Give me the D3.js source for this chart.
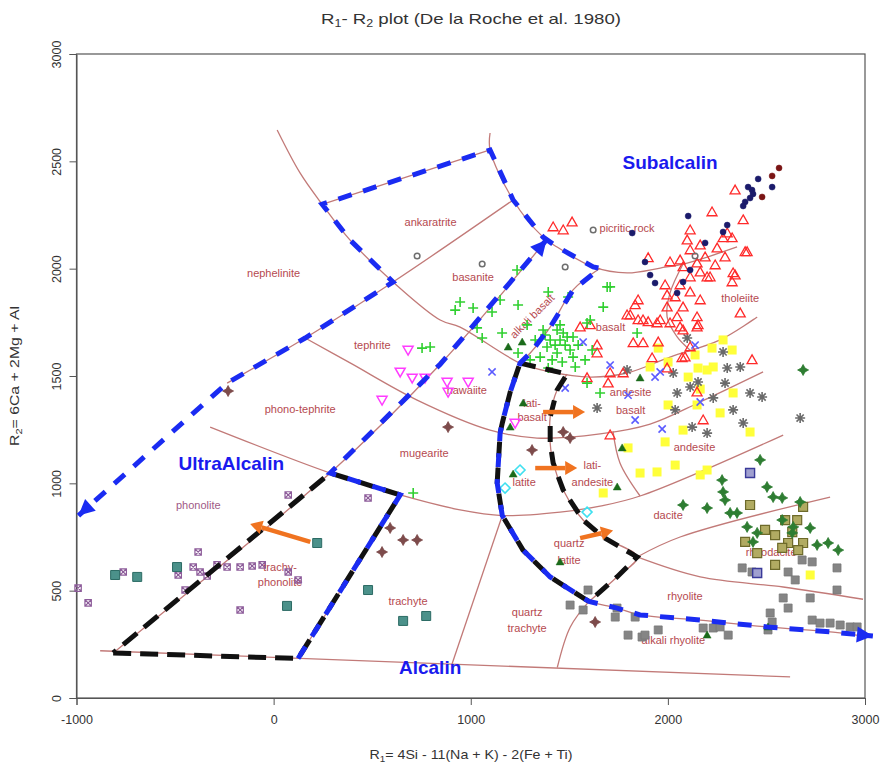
<!DOCTYPE html>
<html><head><meta charset="utf-8">
<script src="https://cdn.jsdelivr.net/npm/d3@7"></script>
<style>body{margin:0;background:#fff}</style>
</head><body>
<svg id="c" width="883" height="768"></svg>
<script>
// ---------- DATA (R1, R2 units) ----------
const xTicks = [-1000, 0, 1000, 2000, 3000];
const yTicks = [0, 500, 1000, 1500, 2000, 2500, 3000];

// field boundary lines
const lineBottom = [[-880,220],[2620,98]];
const curveC1 = [[18,2646],[134,2446],[246,2300],[388,2133],[606,1938],[845,1761],[946,1728],[1250,1560],[1403,1519],[1606,1495],[1793,1514],[2011,1588],[2265,1668],[2453,1775]];
const curveC2 = [[1098,2632],[1098,2553],[1215,2320],[1367,2147],[1438,2101],[1621,2008],[1793,1980],[1961,2003],[2098,2026],[2351,2101]];
const lineTop = [[246,2300],[1098,2553]];
const lineL3 = [[1215,2320],[606,1938],[160,1677],[-236,1467]];
const lineHM = [[160,1677],[388,1561],[728,1388],[1098,1248],[1336,1211],[1656,1230],[1910,1276],[2164,1379],[2483,1519]];
const lineMid = [[-322,1262],[287,1048],[642,946],[946,876],[1160,850],[1453,866],[1656,894],[1859,941],[2585,1225]];
const lineL4 = [[-814,210],[287,1048],[845,1555],[1385,2135]];
const lineL5 = [[642,946],[124,184]];
const lineL6 = [[1160,850],[905,158]];
const lineL7 = [[1600,450],[1505,331],[1439,142]];
const curveS = [[1656,2002],[1519,1901],[1403,1728],[1302,1607],[1250,1560],[1200,1425],[1160,1281],[1149,1234],[1134,1002],[1160,850],[1265,689],[1403,564],[1570,466],[1600,450],[1742,419],[1859,387],[2164,363],[2503,331],[2838,307],[3005,286]];
const lineK2 = [[1489,1509],[1438,1435],[1403,1309],[1403,1188],[1418,1095],[1469,969],[1570,829],[1671,750],[1844,657],[1742,564],[1600,450]];
const lineL9 = [[1722,1242],[1757,1095],[1859,941]];
const lineDacite = [[1844,657],[2062,750],[2823,936]];
const lineRhyolite = [[1844,657],[2164,564],[2585,517],[2990,460]];
const curveTholeiite = [[2077,2022],[2011,1887],[1996,1775],[2047,1682],[2113,1620]];

// dashed boundaries
const blueMain = [[-990,850],[-236,1467],[160,1677],[606,1938],[388,2133],[246,2300],[1098,2553],[1215,2320],[1367,2147],[1438,2101],[1621,2008],[1656,2002],[1519,1901],[1403,1728],[1302,1607],[1250,1560],[1200,1425],[1160,1281],[1149,1234],[1134,1002],[1160,850],[1265,689],[1403,564],[1570,466],[1600,450],[1742,419],[1859,387],[2164,363],[2503,331],[2838,307],[3040,289]];
const blueAlk = [[124,184],[642,946],[287,1048],[845,1555],[1385,2135]];
const blackK1 = [[-814,210],[124,184],[642,946],[287,1048],[-814,210]];
const blackK2 = [[1250,1560],[1489,1509],[1438,1435],[1403,1309],[1403,1188],[1418,1095],[1469,969],[1570,829],[1671,750],[1844,657],[1742,564],[1600,450],[1570,466],[1403,564],[1265,689],[1160,850],[1134,1002],[1149,1234],[1160,1281],[1200,1425],[1250,1560]];

// orange arrows [tailR1, tailR2, tipR1, tipR2]
const orangeArrows = [[186,727,-119,811],[1367,1332,1580,1332],[1327,1071,1540,1071],[1555,745,1722,780]];

// field names
const fieldLabels = [
 ["ankaratrite",796,2217],["nephelinite",0,1980],["basanite",1012,1961],["picritic rock",1793,2189],
 ["tholeiite",2367,1863],["basalt",1709,1728],["tephrite",501,1644],["hawaiite",980,1435],
 ["phono-tephrite",135,1346],["andesite",1811,1425],["basalt",1811,1342],["lati-",1311,1374],["basalt",1311,1309],
 ["mugearite",764,1141],["latite",1271,1006],["lati-",1617,1085],["andesite",1617,1006],["andesite",2135,1169],
 ["trachy-",33,610],["phonolite",33,540],["trachyte",682,452],["quartz",1286,401],["trachyte",1286,326],
 ["quartz",1499,722],["latite",1499,643],["dacite",2001,852],["rhyodacite",2524,680],["rhyolite",2087,475],
 ["alkali rhyolite",2028,270]
];
const phonoliteLabel = ["phonolite",-382,899];
const rotatedLabel = ["alkali basalt",1311,1779];
const seriesLabels = [["Subalcalin",2011,2497],["UltraAlcalin",-215,1095],["Alcalin",794,144]];

// sample points
const greenPlus = [[1235,1994],[946,1845],[921,1807],[1012,1817],[1149,1854],[1240,1831],[1108,1798],[1393,1891],[1494,1868],[1692,1915],[1672,1821],[1032,1724],[1058,1677],[1159,1700],[1240,1607],[1327,1668],[1367,1714],[1438,1714],[1469,1700],[1519,1682],[1387,1635],[1438,1607],[1352,1588],[1519,1588],[1590,1747],[1656,1421],[1590,1467],[1707,1915],[1606,1761],[1489,1682],[1844,1700],[753,1630],[794,1635],[708,955],[1403,1668],[1428,1644],[1453,1668],[1377,1691],[1479,1644],[1504,1621],[1413,1575],[1464,1565],[1545,1644],[1393,1537],[1301,1575],[1580,1575],[1616,1621],[1530,1542],[1453,1738],[1286,1738]];
const redTri = [[2224,2264],[2382,2227],[1900,2050],[2011,2031],[2280,2143],[2326,2143],[2301,2166],[2250,2096],[2290,2054],[2189,2054],[2148,2026],[2392,2078],[2341,1970],[2214,1961],[2164,1984],[2326,1938],[2113,1961],[2077,2008],[1996,1877],[2037,1868],[2077,1821],[2148,1775],[2367,1793],[1996,1821],[2047,1775],[2011,1747],[2062,1728],[1961,1761],[1834,1831],[1793,1784],[1849,1761],[1900,1752],[1945,1747],[2153,1738],[2077,1714],[1824,1654],[1874,1654],[1951,1658],[1641,1644],[1641,1607],[2427,1575],[2072,1584],[1920,1584],[2113,1635],[2402,2078],[2331,1980],[2199,1961],[1849,1854],[1809,1784],[1874,1761],[2148,1728],[1707,1514],[1773,1514],[1697,1467],[1996,1537],[2087,1588],[2148,1425],[2179,1295],[1590,1491],[1606,1738],[1555,1728],[1418,2194],[1469,2180],[1514,2217],[1707,1225],[2113,2180],[2164,2110],[2113,2087],[2062,2040],[2062,1924],[2113,1891],[2164,1854],[1986,1924],[2341,2366],[2240,2017],[2098,2133]];
const navyDot = [[2458,2418],[2407,2380],[2427,2366],[2432,2348],[2417,2329],[2392,2311],[2382,2292],[2529,2380],[2103,2245],[1819,2166],[2301,2203],[2280,2171],[2189,2120],[1884,2031],[1910,1970],[1935,1933],[2047,1887],[2077,1938],[2113,1994]];
const darkRedDot = [[2564,2469],[2529,2432],[2478,2334]];
const grayCircle = [[728,2059],[1058,2022],[1479,2008],[1621,2180],[2138,2059]];
const magentaTri = [[682,1621],[642,1519],[703,1491],[768,1491],[880,1472],[885,1425],[987,1472],[550,1388],[1225,1281]];
const blueX = [[1108,1519],[1479,1444],[1570,1658],[1707,1551],[1935,1495],[1961,1519],[1834,1295],[1971,1253],[2164,1379],[2138,1644],[1798,1411]];
const yellowSq = [[1951,1630],[2224,1630],[2280,1668],[2326,1621],[2138,1598],[2001,1565],[2103,1495],[2230,1542],[2199,1528],[2153,1537],[2331,1421],[2265,1328],[2148,1365],[2001,1365],[2077,1248],[1986,1193],[2417,1239],[1798,1165],[1910,1542],[2164,1439],[1859,1048],[1945,1053],[2037,1085],[2164,1039],[2199,1062],[1672,955],[2722,573]];
const grayStar = [[2098,1677],[2280,1612],[2301,1537],[2367,1542],[2113,1449],[2047,1421],[2153,1472],[2230,1398],[2290,1467],[2331,1342],[2417,1421],[2478,1402],[2382,1281],[2199,1234],[2123,1262],[2037,1342],[2671,1304],[1793,1528],[2027,1514],[1641,1351]];
const darkGreenTri = [[1190,1635],[1261,1658],[1859,1491],[1266,1374],[1200,1262],[1215,1043],[1743,983],[1453,634],[1768,1165],[2199,293],[2508,331]];
const greenDiamond = [[2468,1109],[2503,983],[2534,936],[2580,932],[2671,913],[2275,1015],[2280,960],[2290,922],[2077,899],[2199,885],[2316,862],[2351,862],[2402,797],[2453,769],[2636,797],[2722,792],[2757,713],[2813,722],[2864,689],[2580,829],[2631,769],[2432,727],[2686,1528]];
const oliveSq = [[2417,899],[2595,829],[2656,829],[2686,890],[2493,783],[2544,759],[2631,773],[2686,722],[2610,722],[2392,727],[2453,675],[2544,620],[2661,689],[2580,699]];
const graySq = [[2377,606],[2610,587],[2646,550],[2681,643],[2732,634],[2858,606],[2858,503],[2585,466],[2610,419],[2722,466],[2732,363],[2772,349],[2823,349],[2874,340],[2925,331],[2960,331],[2519,396],[2529,354],[2508,317],[1733,377],[1834,377],[1798,293],[1869,284],[1951,317],[2179,326],[2230,326],[2265,331],[2306,293],[2427,587],[1504,433],[1595,503],[1570,410],[1742,419],[1884,293]];
const blueSq = [[2417,1048],[2453,582]];
const purpleBox = [[74,946],[-383,680],[-763,587],[-408,610],[-373,587],[-337,568],[-484,573],[-449,503],[-170,410],[-992,512],[-941,443],[74,587],[124,550],[-287,620],[-236,610],[-170,610],[479,932],[-109,615],[-58,620]];
const tealSq = [[-804,573],[-692,564],[-490,610],[221,722],[68,429],[479,503],[657,359],[774,382]];
const brownStar = [[885,1262],[591,792],[657,736],[728,736],[550,680],[1311,1155],[1469,1239],[1504,1211],[-231,1430],[1631,354]];
const cyanDia = [[1250,1062],[1174,978],[1590,866]];

// ---------- DRAWING ----------
const svg = d3.select('#c');
svg.append('rect').attr('width',883).attr('height',768).attr('fill','#fff');
const x = d3.scaleLinear().domain([-1000,3000]).range([76.5,865]);
const y = d3.scaleLinear().domain([0,3000]).range([698,54]);
const FONT = "'Liberation Sans', Arial, sans-serif";

// axes
const xAxis = d3.axisBottom(x).tickValues(xTicks).tickSize(7).tickFormat(d=>String(d));
const gx = svg.append('g').attr('transform','translate(0,698)').call(xAxis);
gx.selectAll('text').attr('font-family',FONT).attr('font-size',12.5).attr('fill','#333').attr('dy','1.3em');
const yAxis = d3.axisLeft(y).tickValues(yTicks).tickSize(7).tickFormat(d=>String(d));
const gy = svg.append('g').attr('transform','translate(76.5,0)').call(yAxis);
gy.selectAll('text').attr('font-family',FONT).attr('font-size',12.5).attr('fill','#333')
  .attr('transform','rotate(-90)').attr('x',0).attr('y',-16).attr('dy','0').attr('text-anchor','middle');
[gx,gy].forEach(g=>{g.select('.domain').attr('stroke','#555');g.selectAll('line').attr('stroke','#555');});
svg.append('rect').attr('x',x(-1000)).attr('y',y(3000)).attr('width',x(3000)-x(-1000)).attr('height',y(0)-y(3000))
  .attr('fill','none').attr('stroke','#555').attr('stroke-width',1.2);

// titles
const t = svg.append('text').attr('x',471).attr('y',24).attr('text-anchor','middle').attr('font-family',FONT).attr('font-size',15).attr('fill','#333')
  .attr('textLength',300).attr('lengthAdjust','spacingAndGlyphs');
t.append('tspan').text('R');t.append('tspan').text('1').attr('font-size',10).attr('dy',3);
t.append('tspan').text('- R').attr('dy',-3);t.append('tspan').text('2').attr('font-size',10).attr('dy',3);
t.append('tspan').text(' plot (De la Roche et al. 1980)').attr('dy',-3);
const xt = svg.append('text').attr('x',471).attr('y',759).attr('text-anchor','middle').attr('font-family',FONT).attr('font-size',13).attr('fill','#333')
  .attr('textLength',203).attr('lengthAdjust','spacingAndGlyphs');
xt.append('tspan').text('R');xt.append('tspan').text('1').attr('font-size',9).attr('dy',3);
xt.append('tspan').text('= 4Si - 11(Na + K) - 2(Fe + Ti)').attr('dy',-3);
const yt = svg.append('text').attr('transform','translate(19,376) rotate(-90)').attr('text-anchor','middle').attr('font-family',FONT).attr('font-size',13).attr('fill','#333')
  .attr('textLength',140).attr('lengthAdjust','spacingAndGlyphs');
yt.append('tspan').text('R');yt.append('tspan').text('2').attr('font-size',9).attr('dy',3);
yt.append('tspan').text('= 6Ca + 2Mg + Al').attr('dy',-3);

// field lines
const lin = d3.line().x(d=>x(d[0])).y(d=>y(d[1]));
const smooth = d3.line().x(d=>x(d[0])).y(d=>y(d[1])).curve(d3.curveCatmullRom.alpha(0.5));
const brown = '#c27a78';
[[lineBottom,lin],[curveC1,smooth],[curveC2,smooth],[lineTop,lin],[lineL3,smooth],[lineHM,smooth],[lineMid,smooth],
 [lineL4,smooth],[lineL5,lin],[lineL6,lin],[lineL7,smooth],[curveS,smooth],[lineK2,smooth],[lineL9,smooth],
 [lineDacite,smooth],[lineRhyolite,smooth],[curveTholeiite,smooth]].forEach(([d,g])=>{
  svg.append('path').attr('d',g(d)).attr('fill','none').attr('stroke',brown).attr('stroke-width',1.3);
});

// field labels
const lab = svg.append('g').attr('font-family',FONT).attr('font-size',11).attr('fill','#b5494f').attr('text-anchor','middle');
fieldLabels.forEach(l=>lab.append('text').attr('x',x(l[1])).attr('y',y(l[2])).attr('dy','0.35em').text(l[0]));
lab.append('text').attr('x',x(phonoliteLabel[1])).attr('y',y(phonoliteLabel[2])).attr('dy','0.35em').attr('fill','#a05a86').text(phonoliteLabel[0]);
lab.append('text').attr('transform',`translate(${x(rotatedLabel[1])},${y(rotatedLabel[2])}) rotate(-45)`).attr('dy','0.35em').text(rotatedLabel[0]);

// symbols
function sym(type,r){
  const a=r*0.72;
  switch(type){
    case 'plus': return `M${-r},0H${r}M0,${-r}V${r}`;
    case 'x': return `M${-a},${-a}L${a},${a}M${-a},${a}L${a},${-a}`;
    case 'tri': return `M0,${-r}L${r},${r*0.75}L${-r},${r*0.75}Z`;
    case 'tridown': return `M0,${r}L${r},${-r*0.75}L${-r},${-r*0.75}Z`;
    case 'sq': return `M${-r},${-r}H${r}V${r}H${-r}Z`;
    case 'dia': return `M0,${-r}L${r},0L0,${r}L${-r},0Z`;
    case 'circ': return `M${r},0A${r},${r} 0 1,1 ${-r},0A${r},${r} 0 1,1 ${r},0Z`;
    case 'star': return `M${-r},0H${r}M0,${-r}V${r}M${-a},${-a}L${a},${a}M${-a},${a}L${a},${-a}`;
    case 'boxx': return `M${-r},${-r}H${r}V${r}H${-r}ZM${-r},${-r}L${r},${r}M${-r},${r}L${r},${-r}`;
    case 'star4': { const b=r*0.35; return `M0,${-r}L${b},${-b}L${r},0L${b},${b}L0,${r}L${-b},${b}L${-r},0L${-b},${-b}Z`; }
  }
}
const seriesList = [
  {data:graySq,type:'sq',r:4,fill:'#858585',stroke:'#777',sw:0.8},
  {data:oliveSq,type:'sq',r:4.5,fill:'#b1ab62',stroke:'#6d6a2a',sw:1.2},
  {data:greenDiamond,type:'star4',r:5.5,fill:'#2e7d32',stroke:'#2e7d32',sw:0.8},
  {data:blueSq,type:'sq',r:4.5,fill:'#a0a0d0',stroke:'#3a3a99',sw:1.4},
  {data:yellowSq,type:'sq',r:4.5,fill:'#ffff3a',stroke:'none',sw:0},
  {data:grayStar,type:'star',r:5,fill:'none',stroke:'#6a6a6a',sw:1.6},
  {data:redTri,type:'tri',r:5,fill:'none',stroke:'#ff2a2a',sw:1.3},
  {data:greenPlus,type:'plus',r:5,fill:'none',stroke:'#30d030',sw:1.6},
  {data:navyDot,type:'circ',r:3,fill:'#1b1b6b',stroke:'#1b1b6b',sw:0.5},
  {data:darkRedDot,type:'circ',r:3,fill:'#7a1414',stroke:'#7a1414',sw:0.5},
  {data:grayCircle,type:'circ',r:2.8,fill:'none',stroke:'#6e6e6e',sw:1.5},
  {data:magentaTri,type:'tridown',r:5,fill:'none',stroke:'#ff3cff',sw:1.5},
  {data:blueX,type:'x',r:5,fill:'none',stroke:'#5b5bff',sw:1.6},
  {data:darkGreenTri,type:'tri',r:4,fill:'#1b6b1b',stroke:'#1b6b1b',sw:0.5},
  {data:purpleBox,type:'boxx',r:3.2,fill:'none',stroke:'#8d5c9a',sw:1.2},
  {data:tealSq,type:'sq',r:4.5,fill:'#4b918a',stroke:'#2c6b64',sw:1},
  {data:brownStar,type:'star4',r:5.5,fill:'#7d4b4b',stroke:'#7d4b4b',sw:0.8},
  {data:cyanDia,type:'dia',r:5,fill:'none',stroke:'#3fe0f0',sw:1.6}
];
seriesList.forEach(s=>{
  svg.append('g').selectAll('path').data(s.data).join('path')
    .attr('d',sym(s.type,s.r)).attr('transform',d=>`translate(${x(d[0])},${y(d[1])})`)
    .attr('fill',s.fill).attr('stroke',s.stroke).attr('stroke-width',s.sw);
});

// dashed boundaries
function dashed(d,color,dash,off){
  svg.append('path').attr('d',lin(d)).attr('fill','none').attr('stroke',color).attr('stroke-width',5)
    .attr('stroke-dasharray',dash).attr('stroke-dashoffset',off||0);
}
function head(p0,p1,color,len,hw){
  const ax=x(p0[0]),ay=y(p0[1]),bx=x(p1[0]),by=y(p1[1]);
  const dx=bx-ax,dy=by-ay,L=Math.hypot(dx,dy),ux=dx/L,uy=dy/L;
  const cx=bx-ux*len,cy=by-uy*len;
  svg.append('path').attr('d',`M${bx},${by}L${cx-uy*hw},${cy+ux*hw}L${cx+uy*hw},${cy-ux*hw}Z`).attr('fill',color);
}
const BLUE='#1a2bf2', BLACK='#111';
dashed(blackK1,BLACK,'18 9');
dashed(blackK2,BLACK,'16 10');
dashed(blueMain,BLUE,'14 12',4);
dashed(blueAlk,BLUE,'14 12',0);
head(blueMain[1],blueMain[0],BLUE,16,8);
head(blueMain[blueMain.length-2],blueMain[blueMain.length-1],BLUE,16,8);
head(blueAlk[blueAlk.length-2],blueAlk[blueAlk.length-1],BLUE,16,8);

// orange arrows
orangeArrows.forEach(a=>{
  const ax=x(a[0]),ay=y(a[1]),bx=x(a[2]),by=y(a[3]);
  const dx=bx-ax,dy=by-ay,L=Math.hypot(dx,dy),ux=dx/L,uy=dy/L;
  const cx=bx-ux*12,cy=by-uy*12;
  svg.append('line').attr('x1',ax).attr('y1',ay).attr('x2',cx).attr('y2',cy).attr('stroke','#f07320').attr('stroke-width',4.5);
  svg.append('path').attr('d',`M${bx},${by}L${cx-uy*7},${cy+ux*7}L${cx+uy*7},${cy-ux*7}Z`).attr('fill','#f07320');
});

// series labels
seriesLabels.forEach(l=>svg.append('text').attr('x',x(l[1])).attr('y',y(l[2])).attr('dy','0.35em')
  .attr('text-anchor','middle').attr('font-family',FONT).attr('font-weight','bold').attr('font-size',19)
  .attr('fill','#1a1aee').text(l[0]));
</script>
</body></html>
